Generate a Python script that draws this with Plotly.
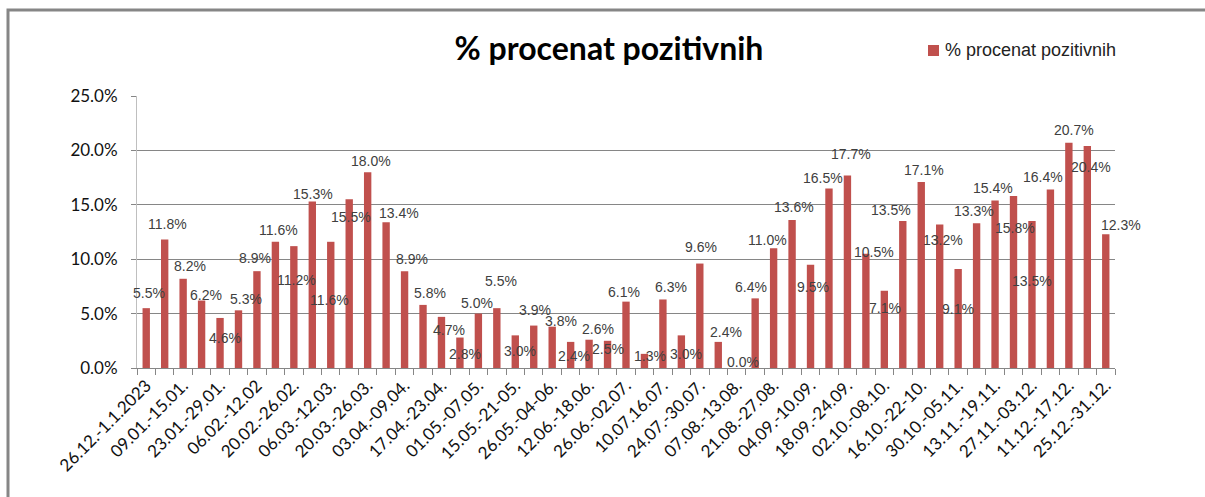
import plotly.graph_objects as go

categories = [
    "26.12.-1.1.2023", "02.01.-08.01.", "09.01.-15.01.", "16.01.-22.01.", "23.01.-29.01.",
    "30.01.-05.02.", "06.02.-12.02", "13.02.-19.02.", "20.02.-26.02.", "27.02.-05.03.",
    "06.03.-12.03.", "13.03.-19.03.", "20.03.-26.03.", "27.03.-02.04.", "03.04.-09.04.",
    "10.04.-16.04.", "17.04.-23.04.", "24.04.-30.04.", "01.05.-07.05.", "08.05.-14.05.",
    "15.05.-21-05.", "22.05.-28.05.", "26.05.-04-06.", "05.06.-11.06.", "12.06.-18.06.",
    "19.06.-25.06.", "26.06.-02.07.", "03.07.-09.07.", "10.07.16.07.", "17.07.-23.07.",
    "24.07.-30.07.", "31.07.-06.08.", "07.08.-13.08.", "14.08.-20.08.", "21.08.-27.08.",
    "28.08.-03.09.", "04.09.-10.09.", "11.09.-17.09.", "18.09.-24.09.", "25.09.-01.10.",
    "02.10.-08.10.", "09.10.-15.10.", "16.10.-22-10.", "23.10.-29.10.", "30.10.-05.11.",
    "06.11.-12.11.", "13.11.-19.11.", "20.11.-26.11.", "27.11.-03.12.", "04.12.-10.12.",
    "11.12.-17.12.", "18.12.-24.12.", "25.12.-31.12.",
]

values = [
    5.5, 11.8, 8.2, 6.2, 4.6, 5.3, 8.9, 11.6, 11.2, 15.3,
    11.6, 15.5, 18.0, 13.4, 8.9, 5.8, 4.7, 2.8, 5.0, 5.5,
    3.0, 3.9, 3.8, 2.4, 2.6, 2.5, 6.1, 1.3, 6.3, 3.0,
    9.6, 2.4, 0.0, 6.4, 11.0, 13.6, 9.5, 16.5, 17.7, 10.5,
    7.1, 13.5, 17.1, 13.2, 9.1, 13.3, 15.4, 15.8, 13.5, 16.4,
    20.7, 20.4, 12.3,
]

series_name = "% procenat pozitivnih"
title_text = "% procenat pozitivnih"

# placement of each data label relative to its bar top (px; y: + = up, x: + = right)
label_yshift = [
    15, 16, 13, 6, -20, 11, 13, 12, -34, 8,
    -58, -18, 11, 9, 12, 12, -13, -16, 11, 27,
    -16, 16, 6, -14, 11, -8, 10, -2, 12, -19,
    17, 10, 6, 11, 8, 13, -22, 10, 21, 2,
    -17, 11, 12, -16, -40, 12, 12, -32, -60, 13,
    13, -21, 9,
]
label_xshift = [
    3, 3, 7, 4, 5, 8, -2, 3, 3, 1,
    -1, 2, 3, 13, 7, 7, 8, 5, -1, 4,
    5, 1, 9, 3, 9, 0, -2, 6, 8, 5,
    1, 8, 6, -4, -6, 2, 2, -6, 4, 8,
    1, -12, 3, 3, 0, -3, -2, 1, 0, -7,
    5, 4, 15,
]

BAR = "#C0504D"
GRID = "#868686"

W, H = 1205, 497
L, R, T, B = 137, 90, 96, 129
PW, PH = W - L - R, H - T - B


def px(x):
    return (x - L) / PW


def py(y):
    return (H - B - y) / PH


ticktext = [c if i % 2 == 0 else "" for i, c in enumerate(categories)]

fig = go.Figure()
fig.add_trace(go.Bar(
    x=categories, y=values, name=series_name,
    marker=dict(color=BAR, line=dict(width=0)),
    showlegend=False,
))

for c, v, ys, xs in zip(categories, values, label_yshift, label_xshift):
    fig.add_annotation(
        x=c, y=v, text=f"{v:.1f}%", showarrow=False,
        yshift=ys, xshift=xs, yanchor="middle", xanchor="center",
        font=dict(family="Liberation Sans, Arial", size=14, color="#404040"),
    )

# legend (drawn manually to match the compact Excel legend)
fig.add_annotation(
    xref="paper", yref="paper", x=px(943), y=py(50), text=series_name,
    showarrow=False, xanchor="left", yanchor="middle",
    font=dict(family="Liberation Sans, Arial", size=18, color="#222"),
)

fig.update_layout(
    width=W, height=H,
    paper_bgcolor="white", plot_bgcolor="white",
    margin=dict(l=L, r=R, t=T, b=B, autoexpand=False),
    bargap=0.6,
    showlegend=False,
    title=dict(
        text=f"<b>{title_text}</b>", x=609 / W, xanchor="center",
        y=1 - 49 / H, yanchor="middle",
        font=dict(family="Lato, Open Sans, sans-serif", size=32, color="black"),
    ),
    xaxis=dict(
        type="category", tickmode="array", tickvals=categories, ticktext=ticktext,
        tickangle=-45, tickson="boundaries", ticks="outside", ticklen=6,
        tickcolor=GRID, showline=True, linecolor=GRID, linewidth=1,
        showgrid=False, range=[-0.5, len(categories) - 0.5],
        tickfont=dict(family="Lato, Open Sans, sans-serif", size=17, color="#111"),
    ),
    yaxis=dict(
        range=[0, 25], dtick=5, tickformat=".1f", ticksuffix="%",
        showgrid=True, gridcolor=GRID, gridwidth=1,
        showline=True, linecolor="#BFBFBF", linewidth=1,
        ticks="outside", ticklen=5, tickcolor=GRID, ticklabelstandoff=10,
        zeroline=False,
        tickfont=dict(family="Lato, Open Sans, sans-serif", size=17, color="#111"),
    ),
    shapes=[
        dict(
            type="rect", xref="paper", yref="paper",
            x0=px(8), x1=1.3, y0=-0.7, y1=py(10),
            line=dict(color=GRID, width=3), fillcolor="rgba(0,0,0,0)", layer="below",
        ),
        dict(
            type="rect", xref="paper", yref="paper",
            x0=px(928), x1=px(939), y0=py(56), y1=py(45),
            line=dict(width=0), fillcolor=BAR,
        ),
    ],
)

fig.write_html(
    "out.html",
    config={"displayModeBar": False},
    post_script="document.body.style.margin='0';document.body.style.padding='0';",
)
